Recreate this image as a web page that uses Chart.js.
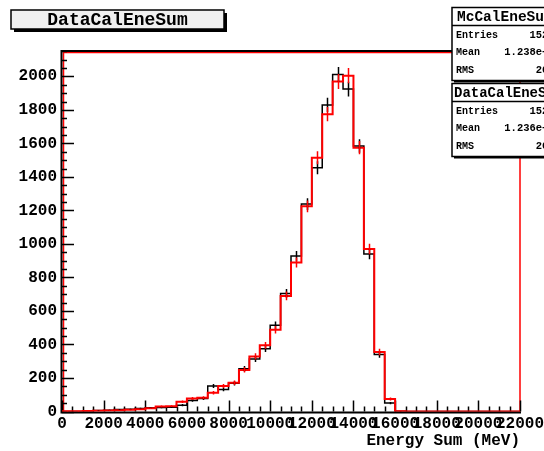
<!DOCTYPE html>
<html>
<head>
<meta charset="utf-8">
<script src="https://cdn.jsdelivr.net/npm/chart.js@4.4.0/dist/chart.umd.min.js"></script>
<style>
  html, body { margin: 0; padding: 0; background: #fff; }
</style>
</head>
<body>
<canvas id="myChart" width="544" height="451"></canvas>
<script>
// histogram binning (low edge of every 500 MeV bin) and upper limit
var binLow = [0, 500, 1000, 1500, 2000, 2500, 3000, 3500, 4000, 4500,
   5000, 5500, 6000, 6500, 7000, 7500, 8000, 8500, 9000, 9500,
   10000, 10500, 11000, 11500, 12000, 12500, 13000, 13500, 14000, 14500,
   15000, 15500, 16000, 16500, 17000, 17500, 18000, 18500, 19000, 19500,
   20000, 20500, 21000, 21500];
var xMax = 22000;
var yMax = 2152;

// data histogram (black)
var dataCounts = [0, 0, 0, 6, 8, 12, 13, 18, 22, 24,
   26, 38, 66, 78, 152, 132, 168, 255, 313, 375,
   515, 705, 928, 1238, 1455, 1830, 2012, 1925, 1585, 940,
   340, 50, 2, 0, 0, 0, 0, 0, 0, 0,
   0, 0, 0, 0];

// MC histogram (red)
var mcCounts = [2, 2, 3, 4, 6, 8, 10, 14, 20, 30,
   32, 58, 78, 82, 112, 152, 172, 248, 329, 395,
   488, 690, 890, 1225, 1515, 1775, 1970, 2005, 1575, 970,
   355, 75, 2, 0, 0, 0, 0, 0, 0, 0,
   0, 0, 0, 0];

var xTickValues = [0, 2000, 4000, 6000, 8000, 10000, 12000, 14000, 16000, 18000, 20000, 22000];
var xTickLabels = ['0', '2000', '4000', '6000', '8000', '10000', '12000', '14000', '16000', '18000', '20000', '22000'];
var yTickValues = [0, 200, 400, 600, 800, 1000, 1200, 1400, 1600, 1800, 2000];
var yTickLabels = ['0', '200', '400', '600', '800', '1000', '1200', '1400', '1600', '1800', '2000'];

// stat boxes
var statNames = ['Entries', 'Mean', 'RMS'];
var mcStats = ['15292', '1.238e+04', '2041'];
var dataStats = ['15231', '1.236e+04', '2026'];

var mono = '"Liberation Mono", "DejaVu Sans Mono", monospace';

const toPoints = (counts) => {
   var pts = binLow.map((x, i) => ({ x: x, y: counts[i] }));
   pts.push({ x: xMax, y: 0 });
   return pts;
};

// ROOT-like frame and ticks drawn inside the plot area
const rootFrame = {
   id: 'rootFrame',
   beforeDatasetsDraw(chart) {
      const c = chart.ctx, a = chart.chartArea;
      const xs = chart.scales.x, ys = chart.scales.y;
      c.save();
      c.strokeStyle = '#ff0000';
      c.lineWidth = 1.5;
      c.beginPath();
      c.moveTo(a.left + 1.5, a.bottom);
      c.lineTo(a.left + 1.5, a.top + 1.5);
      c.lineTo(a.right, a.top + 1.5);
      c.lineTo(a.right, a.bottom);
      c.stroke();

      c.strokeStyle = '#000';
      c.lineWidth = 2;
      c.beginPath();
      c.moveTo(a.left - 0.5, a.top);
      c.lineTo(a.right, a.top);
      c.moveTo(a.left - 0.5, a.top - 1);
      c.lineTo(a.left - 0.5, a.bottom + 1);
      c.lineTo(a.right + 1, a.bottom + 1);
      c.stroke();

      // y ticks: major every 200, minor every 50
      c.lineWidth = 1.5;
      c.beginPath();
      for (var v = 0; v <= yMax; v += 50) {
         var py = Math.round(ys.getPixelForValue(v)) + 0.5;
         var len = (v % 200 === 0) ? 12 : 5;
         c.moveTo(a.left, py);
         c.lineTo(a.left + len, py);
      }
      // x ticks: major every 2000, minor every 500
      for (var u = 0; u <= xMax; u += 500) {
         var px = Math.round(xs.getPixelForValue(u)) + 0.5;
         var l2 = (u % 2000 === 0) ? 11 : 5;
         c.moveTo(px, a.bottom);
         c.lineTo(px, a.bottom - l2);
      }
      c.stroke();
      c.restore();
   },
   afterDatasetsDraw(chart) {
      // poisson error bars at bin centres
      const c = chart.ctx, xs = chart.scales.x, ys = chart.scales.y;
      c.save();
      [[dataCounts, '#000', 1.5], [mcCounts, '#ff0000', 1.5]].forEach(set => {
         c.strokeStyle = set[1];
         c.lineWidth = set[2];
         c.beginPath();
         set[0].forEach((n, i) => {
            if (n <= 0) return;
            var px = Math.round(xs.getPixelForValue(binLow[i] + 250)) + 0.5;
            var e = Math.sqrt(n);
            c.moveTo(px, ys.getPixelForValue(n + e));
            c.lineTo(px, ys.getPixelForValue(Math.max(n - e, 0)));
         });
         c.stroke();
      });
      c.restore();
   },
   afterDraw(chart) {
      const c = chart.ctx;
      c.save();
      // title box
      c.fillStyle = '#000';
      c.fillRect(14, 13, 213, 19);
      c.fillStyle = '#f0f0f0';
      c.fillRect(11, 10, 213, 19);
      c.strokeStyle = '#000';
      c.lineWidth = 1.5;
      c.strokeRect(11, 10, 213, 19);
      c.fillStyle = '#000';
      c.font = 'bold 18px ' + mono;
      c.textAlign = 'center';
      c.textBaseline = 'middle';
      c.fillText('DataCalEneSum', 117.5, 20.5);

      const statBox = (top, title, titleX, titleSize, vals) => {
         c.fillStyle = '#000';
         c.fillRect(454, top + 2, 150, 73);
         c.fillStyle = '#fff';
         c.fillRect(452, top, 150, 73);
         c.strokeStyle = '#000';
         c.lineWidth = 1.5;
         c.strokeRect(452, top, 150, 73);
         c.beginPath();
         c.moveTo(452, top + 18);
         c.lineTo(602, top + 18);
         c.stroke();
         c.fillStyle = '#000';
         c.textBaseline = 'middle';
         c.textAlign = 'left';
         c.font = 'bold ' + titleSize + 'px ' + mono;
         c.fillText(title, titleX, top + 10);
         statNames.forEach((name, k) => {
            var y = top + 28 + k * 17.3;
            c.textAlign = 'left';
            c.font = 'bold 10px ' + mono;
            c.fillText(name, 456, y);
            c.textAlign = 'right';
            c.font = 'bold 10.5px ' + mono;
            c.fillText(vals[k], 561, y);
         });
      };
      statBox(7.5, 'McCalEneSum', 457, 14.5, mcStats);
      statBox(83.5, 'DataCalEneSum', 454, 14, dataStats);
      c.restore();
   }
};

var canva = document.getElementById('myChart');
var myChart = new Chart(canva, {
   type: 'line',
   data: {
      datasets: [
         {
            label: 'DataCalEneSum',
            data: toPoints(dataCounts),
            borderColor: '#000',
            borderWidth: 1.5,
            stepped: 'before',
            pointRadius: 0,
            fill: false,
            order: 2
         },
         {
            label: 'McCalEneSum',
            data: toPoints(mcCounts),
            borderColor: '#ff0000',
            borderWidth: 2,
            stepped: 'before',
            pointRadius: 0,
            fill: false,
            order: 1
         }
      ]
   },
   options: {
      responsive: false,
      animation: false,
      layout: { padding: { left: 0, top: 51, right: 24, bottom: 0 } },
      plugins: { legend: { display: false }, tooltip: { enabled: false } },
      scales: {
         x: {
            type: 'linear',
            min: 0,
            max: xMax,
            grid: { display: false, drawTicks: false },
            border: { display: false },
            afterBuildTicks: s => { s.ticks = xTickValues.map(v => ({ value: v })); },
            ticks: {
               autoSkip: false,
               maxRotation: 0,
               padding: 3,
               color: '#000',
               font: { family: mono, size: 16, weight: 'bold' },
               callback: v => xTickLabels[xTickValues.indexOf(v)]
            },
            title: {
               display: true,
               text: 'Energy Sum (MeV)',
               align: 'end',
               color: '#000',
               padding: 0,
               font: { family: mono, size: 16, weight: 'bold' }
            },
            afterFit: s => { s.height = 39.5; s.paddingLeft = 0; s.paddingRight = 0; }
         },
         y: {
            min: 0,
            max: yMax,
            grid: { display: false, drawTicks: false },
            border: { display: false },
            afterBuildTicks: s => { s.ticks = yTickValues.map(v => ({ value: v })); },
            ticks: {
               autoSkip: false,
               padding: 5,
               color: '#000',
               font: { family: mono, size: 16, weight: 'bold' },
               callback: v => yTickLabels[yTickValues.indexOf(v)]
            },
            afterFit: s => { s.width = 62; s.paddingTop = 0; s.paddingBottom = 0; }
         }
      }
   },
   plugins: [rootFrame]
});
</script>
</body>
</html>
